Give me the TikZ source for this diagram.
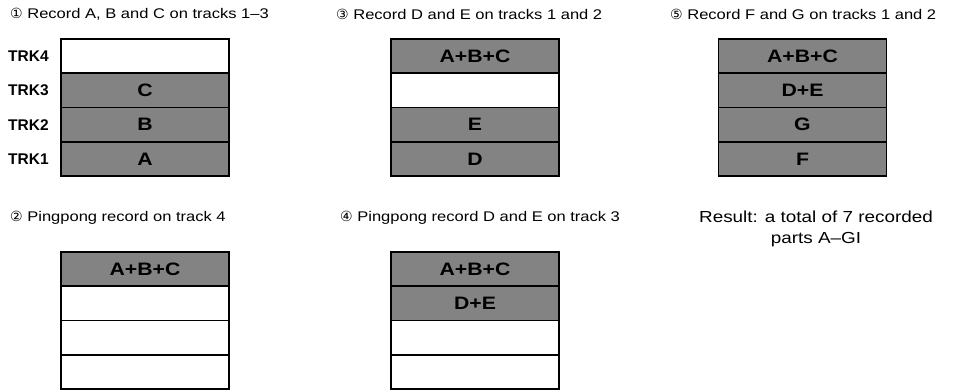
\documentclass[tikz,border=0pt]{standalone}
\usepackage{fontspec}
\setmainfont{Liberation Sans}
\newfontfamily\widefont[FakeStretch=1.18,Ligatures=TeX]{Liberation Sans}
\newfontfamily\circfont{DejaVu Sans}
\usepackage{tikz}
\usetikzlibrary{positioning}
\definecolor{tone}{HTML}{838383}
\tikzset{
  trkfull/.style={draw=black,fill=tone,line width=1.5pt,minimum width=168pt,minimum height=34.25pt,inner sep=0pt,font=\widefont\fontsize{18}{19}\selectfont\bfseries},
  trkempty/.style={draw=black,fill=white,line width=1.5pt,minimum width=168pt,minimum height=34.25pt,inner sep=0pt},
  trkname/.style={font=\fontsize{15.5}{16}\selectfont\bfseries,anchor=west,inner sep=0pt},
  ttl/.style={font=\widefont\fontsize{14}{15}\selectfont,anchor=west,inner sep=0pt}
}
\newcommand{\circnum}[1]{{\circfont #1}}

\begin{document}
\begin{tikzpicture}[x=1pt,y=-1pt]
  \useasboundingbox (0,0) rectangle (954,389);
  % step 1
  \node[ttl] (t1) at (10,14) {\circnum{①} Record A, B and C on tracks 1--3};
  \node[trkempty] (a4) at (145,56.1) {};
  \node[trkfull] (a3) at (145,90.4) {C};
  \node[trkfull] (a2) at (145,124.6) {B};
  \node[trkfull] (a1) at (145,158.9) {A};
  \node[trkname] (n4) at (8,56.1) {TRK4};
  \node[trkname] (n3) at (8,90.4) {TRK3};
  \node[trkname] (n2) at (8,124.6) {TRK2};
  \node[trkname] (n1) at (8,158.9) {TRK1};
  % step 3
  \node[ttl] (t3) at (336,14) {\circnum{③} Record D and E on tracks 1 and 2};
  \node[trkfull] (c4) at (475,56.1) {A+B+C};
  \node[trkempty] (c3) at (475,90.4) {};
  \node[trkfull] (c2) at (475,124.6) {E};
  \node[trkfull] (c1) at (475,158.9) {D};
  % step 5
  \node[ttl] (t5) at (670,14) {\circnum{⑤} Record F and G on tracks 1 and 2};
  \node[trkfull] (e4) at (802.5,56.1) {A+B+C};
  \node[trkfull] (e3) at (802.5,90.4) {D+E};
  \node[trkfull] (e2) at (802.5,124.6) {G};
  \node[trkfull] (e1) at (802.5,158.9) {F};
  % step 2
  \node[ttl] (t2) at (10,218) {\circnum{②} Pingpong record on track 4};
  \node[trkfull] (b4) at (145,269.1) {A+B+C};
  \node[trkempty] (b3) at (145,303.4) {};
  \node[trkempty] (b2) at (145,337.6) {};
  \node[trkempty] (b1) at (145,371.9) {};
  % step 4
  \node[ttl] (t4) at (340,218) {\circnum{④} Pingpong record D and E on track 3};
  \node[trkfull] (d4) at (475,269.1) {A+B+C};
  \node[trkfull] (d3) at (475,303.4) {D+E};
  \node[trkempty] (d2) at (475,337.6) {};
  \node[trkempty] (d1) at (475,371.9) {};
  % result
  \node[font=\widefont\fontsize{16}{21}\selectfont,align=center,inner sep=0pt] (res) at (816,229) {Result: a total of 7 recorded\\parts A--GI};
\end{tikzpicture}
\end{document}
